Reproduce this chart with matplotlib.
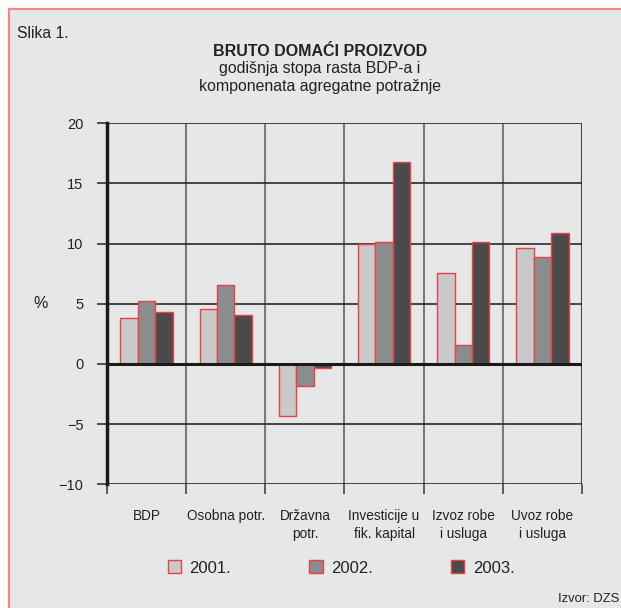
from matplotlib import pyplot as plt
from matplotlib.patches import Rectangle, Patch
import numpy as np

plt.rcParams['font.family'] = ['Liberation Sans', 'DejaVu Sans']

categories = ['BDP', 'Osobna potr.', 'Državna\npotr.', 'Investicije u\nfik. kapital',
              'Izvoz robe\ni usluga', 'Uvoz robe\ni usluga']
years = ['2001.', '2002.', '2003.']
v2001 = [3.8, 4.6, -4.3, 10.0, 7.6, 9.6]
v2002 = [5.2, 6.6, -1.8, 10.1, 1.6, 8.9]
v2003 = [4.3, 4.05, -0.3, 16.8, 10.1, 10.9]
yticks = [-10, -5, 0, 5, 10, 15, 20]

colors = ['#c8c9cb', '#8b8c8e', '#4a4a4d']
edge = '#ee4040'

fig = plt.figure(figsize=(6.21, 6.08), dpi=100)
fig.patch.set_facecolor('white')
# panel background with red border (top/left visible)
fig.patches.append(Rectangle((9 / 621, -0.05), 1.1, 1 - 9 / 608 + 0.05, transform=fig.transFigure,
                             facecolor='#e6e7e9', edgecolor='#f08a8a', lw=1.6, zorder=-5))

ax = fig.add_axes([107 / 621, 1 - 484.3 / 608, 475 / 621, 361 / 608])
ax.set_facecolor('#e6e7e9')

x = np.arange(len(categories))
w = 0.22
for i, vals in enumerate([v2001, v2002, v2003]):
    ax.bar(x + (i - 1) * w, vals, w, color=colors[i], edgecolor=edge, lw=1.0, zorder=3)

ax.set_xlim(-0.5, len(categories) - 0.5)
ax.set_ylim(-10, 20)
ax.set_yticks(yticks)
ax.set_yticklabels(['\u221210', '\u22125', '0', '5', '10', '15', '20'], fontsize=10.5, color='#222222')

# horizontal grid lines
for yv in yticks:
    ax.axhline(yv, color='#2a2a2a', lw=1.2, zorder=2)
ax.axhline(0, color='#1a1a1a', lw=2.2, zorder=4)
# vertical separators
bounds = np.arange(len(categories) + 1) - 0.5
for b in bounds[1:-1]:
    ax.axvline(b, color='#7a7a7a', lw=1.5, zorder=1)
ax.axvline(bounds[-1], color='#444444', lw=1.5, zorder=1)

for s in ['top', 'right', 'bottom']:
    ax.spines[s].set_visible(False)
ax.spines['left'].set_linewidth(2.5)
ax.spines['left'].set_color('#1a1a1a')
ax.spines['left'].set_zorder(5)

ax.set_xticks(x)
ax.set_xticklabels(categories, fontsize=9.8, color='#222222', linespacing=1.3)
ax.set_xticks(bounds, minor=True)
ax.tick_params(axis='x', which='major', length=0, pad=18)
ax.tick_params(axis='x', which='minor', length=7, width=1.2, color='#444444', direction='out')
ax.tick_params(axis='y', length=7, width=1.2, color='#333333', pad=10)

ax.text(-0.139, 5, '%', transform=ax.get_yaxis_transform(), fontsize=11.5, color='#222222',
        ha='center', va='center')

fig.text(17 / 621, 1 - 33 / 608, 'Slika 1.', fontsize=11.3, color='#222222', ha='left', va='center')
fig.text(320 / 621, 1 - 51 / 608, 'BRUTO DOMAĆI PROIZVOD', fontsize=11.5, fontweight='bold',
         color='#222222', ha='center', va='center')
fig.text(320 / 621, 1 - 69 / 608, 'godišnja stopa rasta BDP-a i', fontsize=11.4,
         color='#222222', ha='center', va='center')
fig.text(320 / 621, 1 - 86 / 608, 'komponenata agregatne potražnje', fontsize=11.4,
         color='#222222', ha='center', va='center')
fig.text(619 / 621, 1 - 599 / 608, 'Izvor: DZS', fontsize=9.4, color='#222222', ha='right', va='center')

handles = [Patch(facecolor=c, edgecolor=edge, lw=1.0) for c in colors]
fig.legend(handles, years, loc='center', bbox_to_anchor=(341 / 621, 1 - 568 / 608), ncol=3,
           frameon=False, fontsize=12, handlelength=0.8, handleheight=0.8,
           handletextpad=0.5, columnspacing=4.7, labelcolor='#222222')

fig.savefig('out.png', dpi=100, facecolor=fig.get_facecolor())
